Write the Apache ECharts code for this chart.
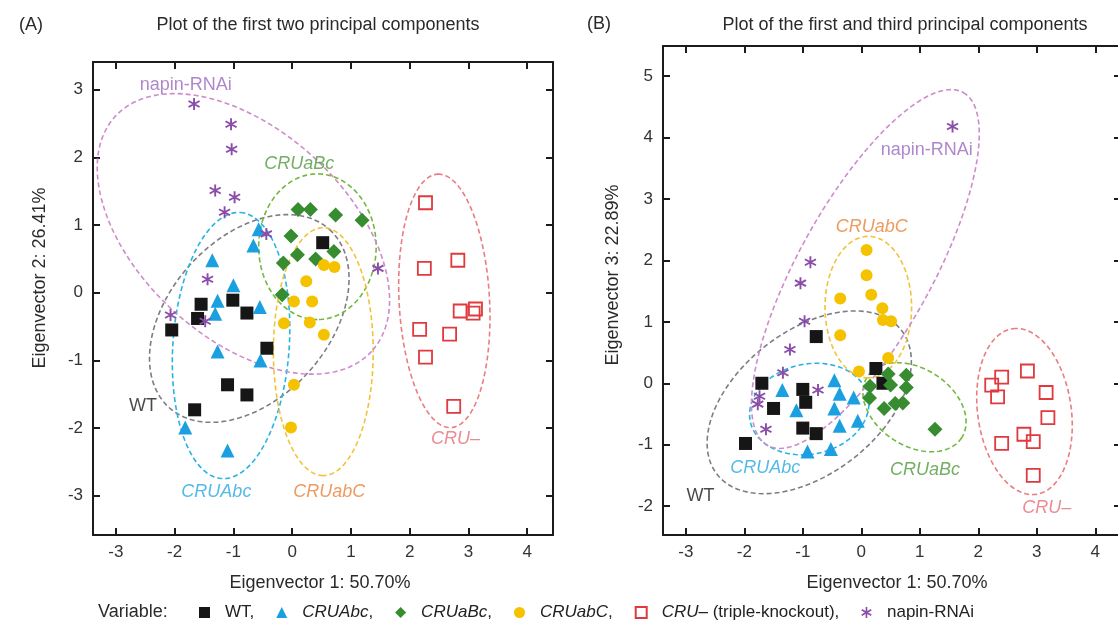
<!DOCTYPE html>
<html>
<head>
<meta charset="utf-8">
<script src="https://cdn.jsdelivr.net/npm/echarts@6/dist/echarts.min.js"></script>
<style>
  html, body { margin: 0; padding: 0; background: #fff; }
  #main { width: 1118px; height: 626px; }
</style>
</head>
<body>
<div id="main"></div>
<script>
var FONT = '"Liberation Sans", Arial, sans-serif';

// groups, in legend order
var groups = ['WT', 'CRUAbc', 'CRUaBc', 'CRUabC', 'CRU–', 'napin-RNAi'];

// (A) eigenvector 1 vs eigenvector 2
var wtA = [[0.52,0.74],[-1.55,-0.17],[-1.01,-0.11],[-0.77,-0.30],[-1.61,-0.38],[-2.05,-0.55],[-0.43,-0.82],[-1.10,-1.36],[-0.77,-1.51],[-1.66,-1.73]];
var cruAbcA = [[-0.57,0.94],[-0.66,0.70],[-1.36,0.48],[-1.00,0.11],[-1.27,-0.12],[-0.55,-0.21],[-1.31,-0.31],[-1.27,-0.87],[-0.54,-1.00],[-1.82,-1.99],[-1.10,-2.33]];
var cruaBcA = [[0.10,1.23],[0.31,1.23],[0.74,1.15],[1.19,1.07],[-0.02,0.84],[0.71,0.61],[0.09,0.56],[0.40,0.50],[-0.15,0.44],[-0.17,-0.03]];
var cruabCA = [[0.54,0.41],[0.72,0.38],[0.24,0.17],[0.03,-0.13],[0.34,-0.13],[-0.14,-0.45],[0.30,-0.44],[0.54,-0.62],[0.03,-1.36],[-0.02,-1.99]];
var cruKoA = [[2.27,1.33],[2.82,0.48],[2.25,0.36],[2.86,-0.27],[3.08,-0.30],[3.12,-0.24],[2.17,-0.54],[2.68,-0.61],[2.27,-0.95],[2.75,-1.68]];
var napinA = [[-1.67,2.79],[-1.04,2.49],[-1.03,2.12],[-1.31,1.51],[-0.98,1.41],[-1.15,1.19],[-0.44,0.87],[1.46,0.36],[-1.44,0.20],[-2.07,-0.33],[-1.48,-0.42]];

// (B) eigenvector 1 vs eigenvector 3
var wtB = [[-0.77,0.76],[0.25,0.24],[0.37,0.00],[-1.70,0.00],[-1.00,-0.10],[-0.95,-0.31],[-1.50,-0.41],[-1.00,-0.73],[-0.77,-0.82],[-1.98,-0.98]];
var cruAbcB = [[-0.46,0.05],[-1.35,-0.11],[-0.37,-0.17],[-0.13,-0.23],[-1.11,-0.44],[-0.46,-0.41],[-0.37,-0.69],[-0.06,-0.61],[-0.92,-1.11],[-0.52,-1.07]];
var cruaBcB = [[0.46,0.15],[0.77,0.13],[0.15,-0.05],[0.50,-0.03],[0.77,-0.07],[0.14,-0.24],[0.58,-0.33],[0.71,-0.32],[0.39,-0.41],[1.26,-0.75]];
var cruabCB = [[0.09,2.17],[0.09,1.76],[0.17,1.44],[-0.36,1.38],[0.36,1.22],[0.37,1.03],[0.51,1.01],[-0.36,0.78],[0.46,0.41],[-0.04,0.19]];
var cruKoB = [[2.40,0.10],[2.84,0.20],[2.23,-0.03],[2.33,-0.22],[3.16,-0.15],[3.19,-0.56],[2.78,-0.83],[2.94,-0.95],[2.40,-0.98],[2.94,-1.50]];
var napinB = [[1.56,4.18],[-0.87,1.97],[-1.04,1.63],[-0.97,1.01],[-1.22,0.55],[-1.34,0.17],[-0.74,-0.11],[-1.74,-0.21],[-1.77,-0.34],[-1.63,-0.75]];

// group ellipses: centre x, centre y, half axes (x units), tilt in degrees
var ringA = [[-0.73,-0.38,2.04,1.36,-48],[-1.04,-0.78,2.27,0.99,-86],[0.43,0.68,1.24,1.00,90],[0.53,-0.87,2.11,0.85,90],[2.59,-0.12,2.16,0.77,-93],[-0.83,0.87,2.96,1.77,42.5]];
var ringB = [[-0.89,-0.31,2.00,1.22,-38],[-0.89,-0.42,1.03,0.77,-12],[0.91,-0.39,0.96,0.66,33],[0.12,1.24,1.21,0.74,90],[2.79,-0.46,1.43,0.80,-98],[0.07,1.86,3.45,1.14,-61]];

// where the group names are written
var tagA = [[-2.54,-1.68],[-1.29,-2.94],[0.12,1.91],[0.63,-2.94],[2.78,-2.16],[-1.81,3.07]];
var tagB = [[-2.75,-1.83],[-1.64,-1.38],[1.09,-1.41],[0.18,2.55],[3.17,-2.03],[1.12,3.79]];

var asterisk = 'path://M8.5 0L11.5 0L11.5 20L8.5 20Z M0.59 6.3L2.09 3.7L19.41 13.7L17.91 16.3Z M17.91 3.7L19.41 6.3L2.09 16.3L0.59 13.7Z';
var markColors = ['#161616', '#1a9fe0', '#378c30', '#f5c200', '#e0393e', '#8a4ea8'];
var markSymbols = ['rect', 'triangle', 'diamond', 'circle', 'rect', asterisk];
var markSizes = [13, 14, 15, 12, 13, 12];
var ringColors = ['#7d7d88', '#27b3e4', '#72b83e', '#f1c33a', '#ea7d7f', '#cf8bcb'];
var textColors = ['#1b1b1b', '#29a9e1', '#4f9a3c', '#e8823a', '#e66f79', '#9a69bf'];

function ringItem(params, api) {
    var c = api.coord([api.value(0), api.value(1)]);
    var unit = api.size([1, 1])[0];
    var a = api.value(2) * unit, b = api.value(3) * unit;
    var t = api.value(4) * Math.PI / 180;
    var pts = [];
    for (var i = 0; i < 144; i++) {
        var s = i / 144 * Math.PI * 2;
        var ex = a * Math.cos(s), ey = b * Math.sin(s);
        pts.push([c[0] + ex * Math.cos(t) - ey * Math.sin(t), c[1] + ex * Math.sin(t) + ey * Math.cos(t)]);
    }
    return {
        type: 'polygon',
        shape: {points: pts},
        style: {fill: 'none', stroke: ringColors[params.dataIndex], lineWidth: 1.6, lineDash: [5, 3]}
    };
}

function panelSeries(xi, yi, points, rings, tags) {
    var out = [];
    out.push({
        type: 'custom', xAxisIndex: xi, yAxisIndex: yi, data: rings,
        encode: {x: 0, y: 1}, renderItem: ringItem, silent: true, z: 1
    });
    groups.forEach(function (g, k) {
        var s = {
            type: 'scatter', name: g, xAxisIndex: xi, yAxisIndex: yi, data: points[k],
            symbol: markSymbols[k], symbolSize: markSizes[k],
            itemStyle: {color: markColors[k], opacity: 1}, z: 3
        };
        if (g === 'CRU–') {
            s.itemStyle = {color: 'rgba(255,255,255,0)', borderColor: markColors[k], borderWidth: 1.8, opacity: 1};
        }
        out.push(s);
    });
    out.push({
        type: 'scatter', xAxisIndex: xi, yAxisIndex: yi, symbolSize: 1, silent: true, z: 4,
        itemStyle: {color: 'rgba(0,0,0,0)'},
        data: tags.map(function (p, k) {
            return {
                name: groups[k], value: p,
                label: {color: textColors[k], fontStyle: groups[k].indexOf('CRU') === 0 ? 'italic' : 'normal'}
            };
        }),
        label: {show: true, position: 'inside', formatter: '{b}', fontSize: 18, fontFamily: FONT}
    });
    return out;
}

function intLabel(v) {
    return Math.abs(v - Math.round(v)) < 1e-6 ? String(Math.round(v)) : '';
}

function xAx(gi, top, min, max) {
    return {
        type: 'value', gridIndex: gi, position: top ? 'top' : 'bottom',
        min: min, max: max, splitNumber: 8, minInterval: 1, maxInterval: 1,
        axisLine: {onZero: false, lineStyle: {color: '#1b1b1b', width: 2}},
        axisTick: {inside: true, length: 7, lineStyle: {color: '#1b1b1b', width: 2}},
        axisLabel: {show: !top, formatter: intLabel, fontSize: 17, color: '#333', margin: 9, fontFamily: FONT},
        splitLine: {show: false}
    };
}

function yAx(gi, right, min, max) {
    return {
        type: 'value', gridIndex: gi, position: right ? 'right' : 'left',
        min: min, max: max, splitNumber: 8, minInterval: 1, maxInterval: 1,
        axisLine: {onZero: false, lineStyle: {color: '#1b1b1b', width: 2}},
        axisTick: {inside: true, length: 7, lineStyle: {color: '#1b1b1b', width: 2}},
        axisLabel: {show: !right, formatter: intLabel, fontSize: 17, color: '#333', margin: 10, fontFamily: FONT},
        splitLine: {show: false}
    };
}

function txt(x, y, s, align, rot) {
    return {
        type: 'text', x: x, y: y, rotation: rot || 0,
        style: {text: s, fill: '#2a2a2a', fontSize: 18, fontFamily: FONT, align: align || 'center', verticalAlign: 'middle'}
    };
}

var chart = echarts.init(document.getElementById('main'));
var option = {
    backgroundColor: '#fff',
    animation: false,
    grid: [
        {left: 93, top: 62, width: 460, height: 473, outerBoundsMode: 'none'},
        {left: 663, top: 46, width: 458, height: 489, outerBoundsMode: 'none'}
    ],
    xAxis: [xAx(0, false, -3.39, 4.44), xAx(0, true, -3.39, 4.44), xAx(1, false, -3.39, 4.44), xAx(1, true, -3.39, 4.44)],
    yAxis: [yAx(0, false, -3.58, 3.41), yAx(0, true, -3.58, 3.41), yAx(1, false, -2.47, 5.49), yAx(1, true, -2.47, 5.49)],
    legend: {
        data: groups, left: 194, top: 599, itemWidth: 11, itemHeight: 11, itemGap: 22,
        formatter: function (name) {
            if (name === 'WT') return 'WT,';
            if (name === 'napin-RNAi') return name;
            if (name === 'CRU–') return '{i|CRU–} (triple-knockout),';
            return '{i|' + name + '},';
        },
        textStyle: {
            fontSize: 17, color: '#222', fontFamily: FONT, padding: [0, 0, 0, 10],
            rich: {i: {fontStyle: 'italic', fontSize: 17, color: '#222', fontFamily: FONT}}
        }
    },
    graphic: [
        txt(19, 25, '(A)', 'left'),
        txt(318, 25, 'Plot of the first two principal components'),
        txt(587, 24, '(B)', 'left'),
        txt(905, 25, 'Plot of the first and third principal components'),
        txt(40, 278, 'Eigenvector 2: 26.41%', 'center', Math.PI / 2),
        txt(613, 275, 'Eigenvector 3: 22.89%', 'center', Math.PI / 2),
        txt(320, 583, 'Eigenvector 1: 50.70%'),
        txt(897, 583, 'Eigenvector 1: 50.70%'),
        txt(98, 612, 'Variable:', 'left')
    ],
    series: [].concat(
        panelSeries(0, 0, [wtA, cruAbcA, cruaBcA, cruabCA, cruKoA, napinA], ringA, tagA),
        panelSeries(2, 2, [wtB, cruAbcB, cruaBcB, cruabCB, cruKoB, napinB], ringB, tagB)
    )
};
chart.setOption(option);
</script>
</body>
</html>
